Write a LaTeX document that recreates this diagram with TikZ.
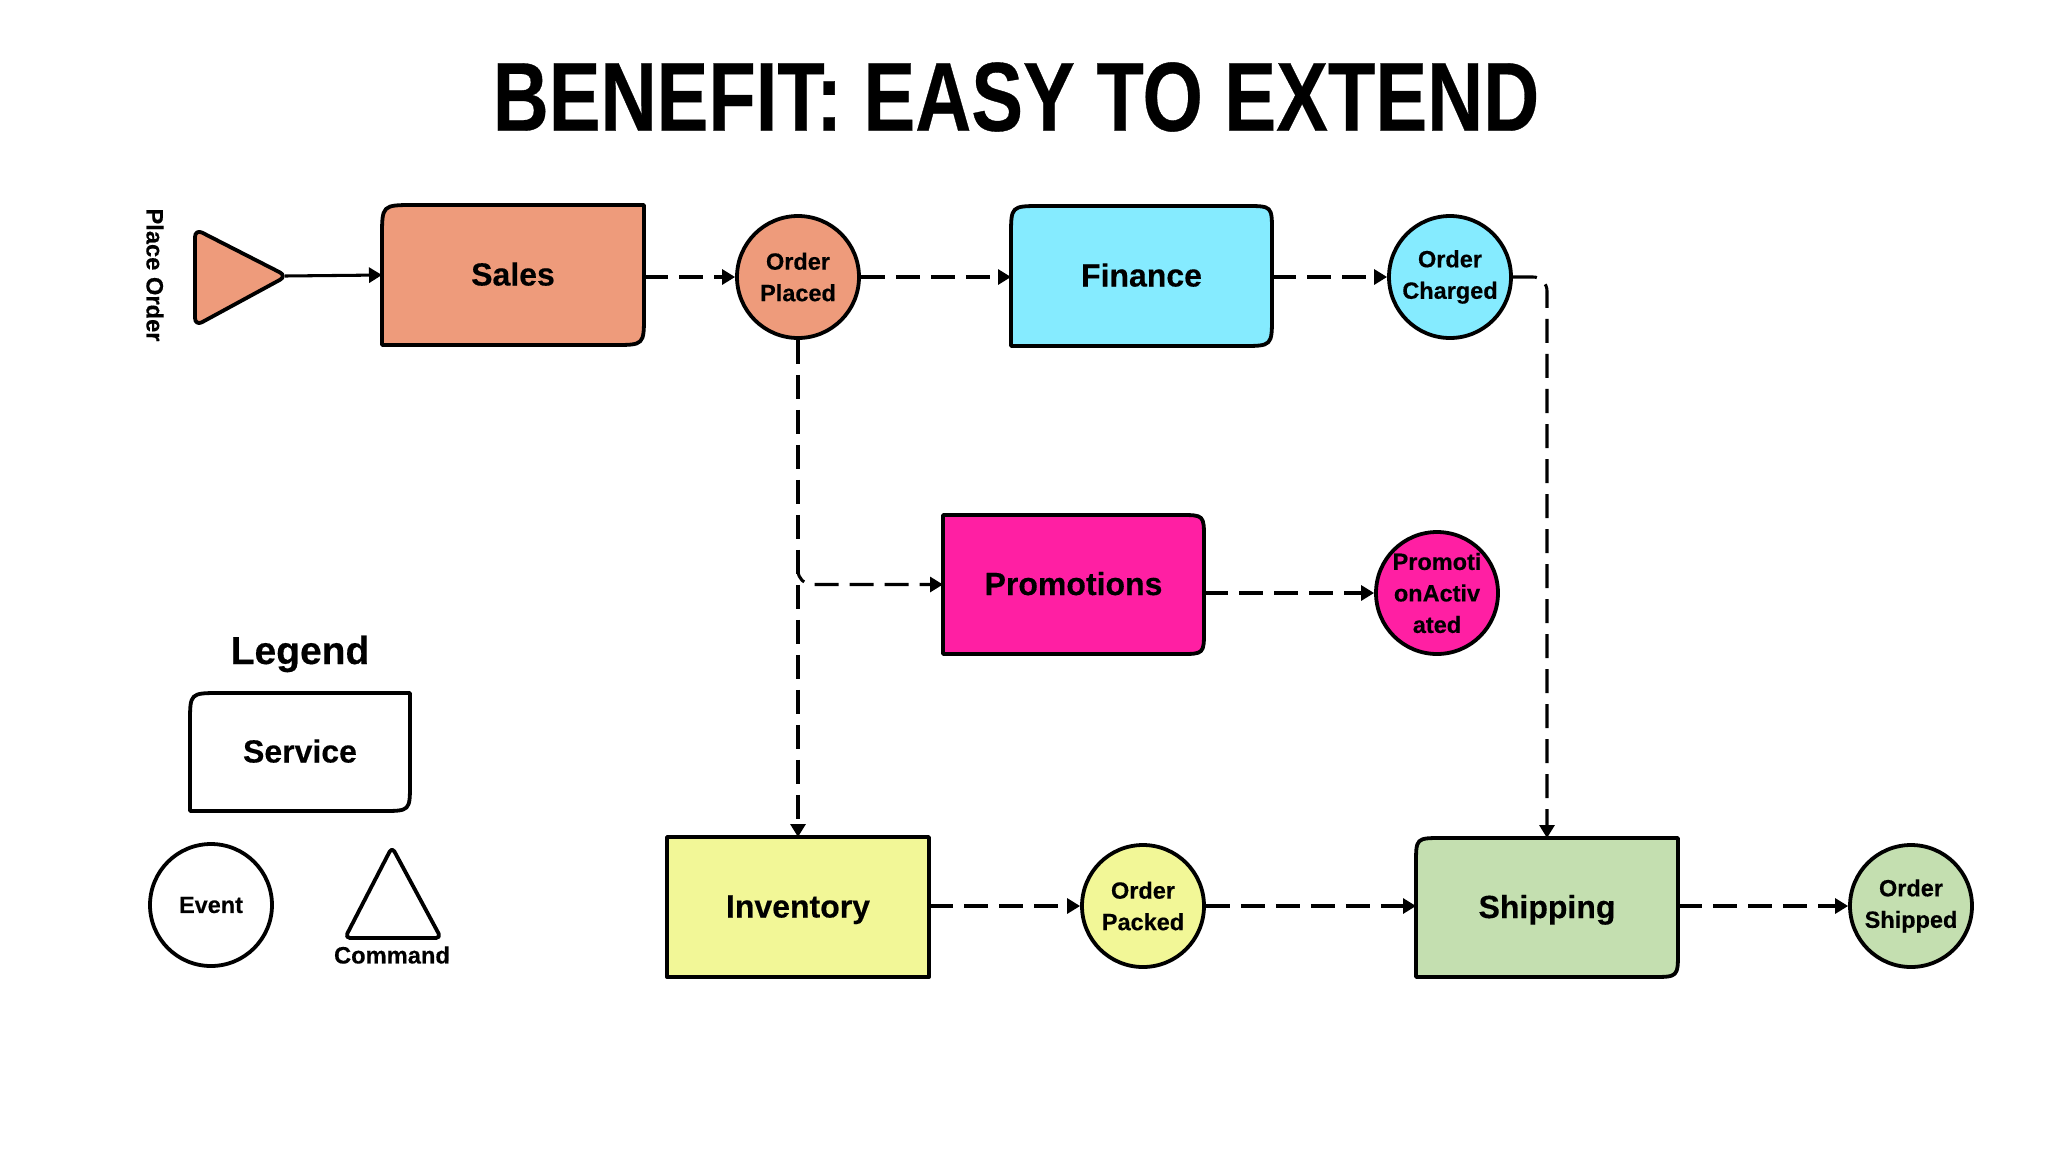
\documentclass[tikz,border=0pt]{standalone}
\usepackage{fontspec}
\setmainfont[BoldFeatures={FakeBold=0.35}]{Liberation Sans}
\usetikzlibrary{arrows.meta}
\definecolor{salesc}{HTML}{EE9B7B}
\definecolor{financec}{HTML}{85EBFF}
\definecolor{promoc}{HTML}{FF1FA3}
\definecolor{invc}{HTML}{F2F797}
\definecolor{shipc}{HTML}{C4DFB0}
\newcommand\fs[1]{\fontsize{#1}{#1}\selectfont\bfseries}
\tikzset{
  outline/.style={draw=black,line width=3.8pt,line join=round},
  evt/.style={circle,draw=black,line width=3.8pt,minimum size=122pt,inner sep=0pt,align=center,
    font=\fontsize{23.5}{31.5}\selectfont\bfseries},
  flow/.style={draw=black,line width=3.05pt,-{Triangle[length=13pt,width=15pt]}},
  dflow/.style={flow,dash pattern=on 24pt off 11pt},
  boxlabel/.style={rectangle,inner sep=0pt,outer sep=0pt,font=\fs{32},text height=25pt,text depth=4pt},
  plain/.style={inner sep=0pt,outer sep=0pt}
}
% name, x1, y1, x2, y2, fill, label, radii tl/tr/br/bl
\def\parseradii#1/#2/#3/#4\relax{\def\rtl{#1}\def\rtr{#2}\def\rbr{#3}\def\rbl{#4}}
\newcommand\svcbox[8]{%
  \parseradii#8\relax
  \draw[outline,fill=#6]
    ({#2+\rtl},#3) -- ({#4-\rtr},#3) .. controls (#4,#3) .. (#4,{#3+\rtr})
    -- (#4,{#5-\rbr}) .. controls (#4,#5) .. ({#4-\rbr},#5)
    -- ({#2+\rbl},#5) .. controls (#2,#5) .. (#2,{#5-\rbl})
    -- (#2,{#3+\rtl}) .. controls (#2,#3) .. ({#2+\rtl},#3) -- cycle;
  \node[boxlabel,minimum width={(#4-#2)*1pt},minimum height={(#5-#3)*1pt}] (#1) at ({(#2+#4)/2},{(#3+#5)/2}) {#7};
}
\begin{document}
\begin{tikzpicture}[x=1pt,y=-1pt]
\path[use as bounding box,fill=white] (0,0) rectangle (2048,1152);

\node[plain,xscale=0.792,font=\fs{98}] (title) at (1016,97) {BENEFIT: EASY TO EXTEND};

% command
\node[plain,rotate=-90,font=\fs{23.7}] (place) at (155,275) {Place Order};
\draw[outline,fill=salesc,rounded corners=8pt] (195,229) -- (287,276) -- (195,326) -- cycle;
\coordinate (cmdtip) at (285,276);

% services
\svcbox{sales}{382}{205}{644}{345}{salesc}{Sales}{32/0/30/0}
\svcbox{finance}{1011}{206}{1272}{346}{financec}{Finance}{30/26/30/0}
\svcbox{promo}{943}{515}{1204}{654}{promoc}{Promotions}{0/24/24/0}
\svcbox{inv}{667}{837}{929}{977}{invc}{Inventory}{0/0/0/0}
\svcbox{ship}{1416}{838}{1678}{977}{shipc}{Shipping}{26/0/26/0}
\svcbox{legsvc}{190}{693}{410}{811}{white}{Service}{30/0/28/0}

% events
\node[evt,fill=salesc] (op) at (798,277) {Order\\Placed};
\node[evt,fill=financec] (oc) at (1450,277) {Order\\Charged};
\node[evt,fill=promoc,inner sep=-8pt] (pa) at (1437,593) {Promoti\\onActiv\\ated};
\node[evt,fill=invc] (pk) at (1143,906) {Order\\Packed};
\node[evt,fill=shipc] (sh) at (1911,906) {Order\\Shipped};

% legend
\node[plain,font=\fs{39}] (legend) at (300,654) {Legend};
\node[evt,fill=white] (legevt) at (211,905) {Event};
\draw[outline,fill=white,rounded corners=5pt] (392,847) -- (441,938) -- (345,938) -- cycle;
\node[plain,font=\fs{23.7}] (legcmd) at (392,955) {Command};

% connectors
\draw[flow] (cmdtip) -- (sales.west);
\draw[dflow] (sales.east |- op.west) -- (op.west);
\draw[dflow] (op.east) -- (finance.west |- op.east);
\draw[dflow] (finance.east |- oc.west) -- (oc.west);
\draw[dflow] (op.south) -- (op.south |- inv.north);
\coordinate (branch) at (op.south |- 0,560);
\draw[dflow,rounded corners=14pt] (branch) |- (promo.west);
\draw[dflow] (promo.east |- pa.west) -- (pa.west);
\draw[dflow,rounded corners=14pt] (oc.east) -| (ship.north);
\draw[dflow] (inv.east |- pk.west) -- (pk.west);
\draw[dflow] (pk.east) -- (ship.west |- pk.east);
\draw[dflow] (ship.east |- sh.west) -- (sh.west);
\end{tikzpicture}
\end{document}
